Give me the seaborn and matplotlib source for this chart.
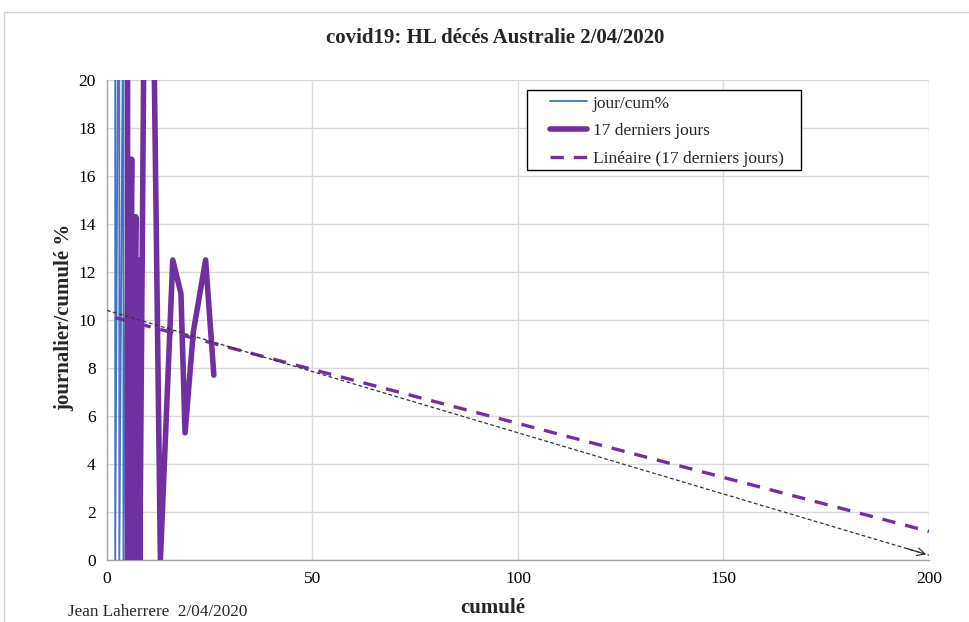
import matplotlib
matplotlib.use("Agg")
import matplotlib.pyplot as plt
import seaborn as sns
import pandas as pd
from matplotlib.patches import Rectangle

# jour/cum% sur toute la serie (cumul, journalier/cumul %)
cum_all = [2, 2, 3, 3, 4, 4, 5, 5, 6, 6, 7, 7, 8, 8, 9, 11, 13, 16, 18, 19, 21, 24, 26]
pct_all = [50.0, 0.0, 33.3, 0.0, 25.0, 0.0, 20.0, 0.0, 16.7, 0.0, 14.3, 0.0, 12.5, 0.0,
           22.2, 27.3, 0.0, 12.5, 11.1, 5.3, 9.5, 12.5, 7.7]

# 17 derniers jours
cum_17 = cum_all[-17:]
pct_17 = pct_all[-17:]

# tendance lineaire (17 derniers jours) et droite tracee a la main
trend_slope = -0.045
trend_intercept = 10.19
trend_range = [2, 200]
hand_x = [0, 200]
hand_y = [10.4, 0.2]

purple = "#7030A0"
blue = "#4472C4"

sns.set_theme(style="white")
plt.rcParams["font.family"] = ["Liberation Serif", "DejaVu Serif"]

fig = plt.figure(figsize=(9.69, 6.22), dpi=100)
ax = fig.add_axes([0.1104, 0.0997, 0.8483, 0.7717])

df_all = pd.DataFrame({"cumul": cum_all, "pct": pct_all})
df_17 = pd.DataFrame({"cumul": cum_17, "pct": pct_17})

sns.lineplot(data=df_all, x="cumul", y="pct", sort=False, estimator=None,
             color=blue, linewidth=1.3, ax=ax, label="jour/cum%", zorder=3)
sns.lineplot(data=df_17, x="cumul", y="pct", sort=False, estimator=None,
             color=purple, linewidth=4.0, ax=ax, label="17 derniers jours", zorder=4)

trend_y = [trend_intercept + trend_slope * v for v in trend_range]
ax.plot(trend_range, trend_y, color=purple, linewidth=2.4, dashes=(4, 3),
        label="Linéaire (17 derniers jours)", zorder=5)

# droite en pointilles noirs avec fleche
ax.plot(hand_x, hand_y, color="#333333", linewidth=0.9, dashes=(3, 2), zorder=6)
ax.annotate("", xy=(hand_x[1], hand_y[1]), xytext=(hand_x[1] - 6, hand_y[1] + 0.31),
            arrowprops=dict(arrowstyle="->", color="#333333", lw=0.9,
                            mutation_scale=14), zorder=6)

ax.set_xlim(0, 200)
ax.set_ylim(0, 20)
ax.set_xticks([0, 50, 100, 150, 200])
ax.set_yticks(range(0, 21, 2))
ax.grid(True, color="#d9d9d9", linewidth=1)
ax.set_axisbelow(True)
for side in ["top", "right"]:
    ax.spines[side].set_visible(False)
for side in ["left", "bottom"]:
    ax.spines[side].set_color("#a6a6a6")
    ax.spines[side].set_linewidth(1)
ax.tick_params(axis="both", labelsize=12.5, colors="black", length=0, pad=8)
ax.set_xlabel("")
ax.set_ylabel("")

fig.text(0.5114, 0.939, "covid19: HL décés Australie 2/04/2020", ha="center", va="center",
         fontsize=15, fontweight="bold")
fig.text(0.066, 0.490, "journalier/cumulé %", ha="center", va="center", rotation=90,
         fontsize=15, fontweight="bold")
fig.text(0.508, 0.022, "cumulé", ha="center", va="center", fontsize=15, fontweight="bold")
fig.text(0.07, 0.016, "Jean Laherrere  2/04/2020", ha="left", va="center", fontsize=12.3)

# legende sans cadre + cadre noir dessine a part
leg = ax.legend(loc="upper left", bbox_to_anchor=(0.539, 0.968), fontsize=12.5,
                frameon=False, handlelength=2.15, borderpad=0, borderaxespad=0,
                labelspacing=0.68, handletextpad=0.3)
ax.add_patch(Rectangle((0.511, 0.8125), 0.333, 0.1665, transform=ax.transAxes,
                       facecolor="white", edgecolor="black", linewidth=1, zorder=7))
leg.set_zorder(8)

# cadre du graphique
fig.patches.append(Rectangle((4 / 969, -0.1), 1.2, (622 - 12) / 622 + 0.1,
                             transform=fig.transFigure, fill=False,
                             edgecolor="#d0d0d0", linewidth=1))

fig.savefig("out.png", dpi=100)
